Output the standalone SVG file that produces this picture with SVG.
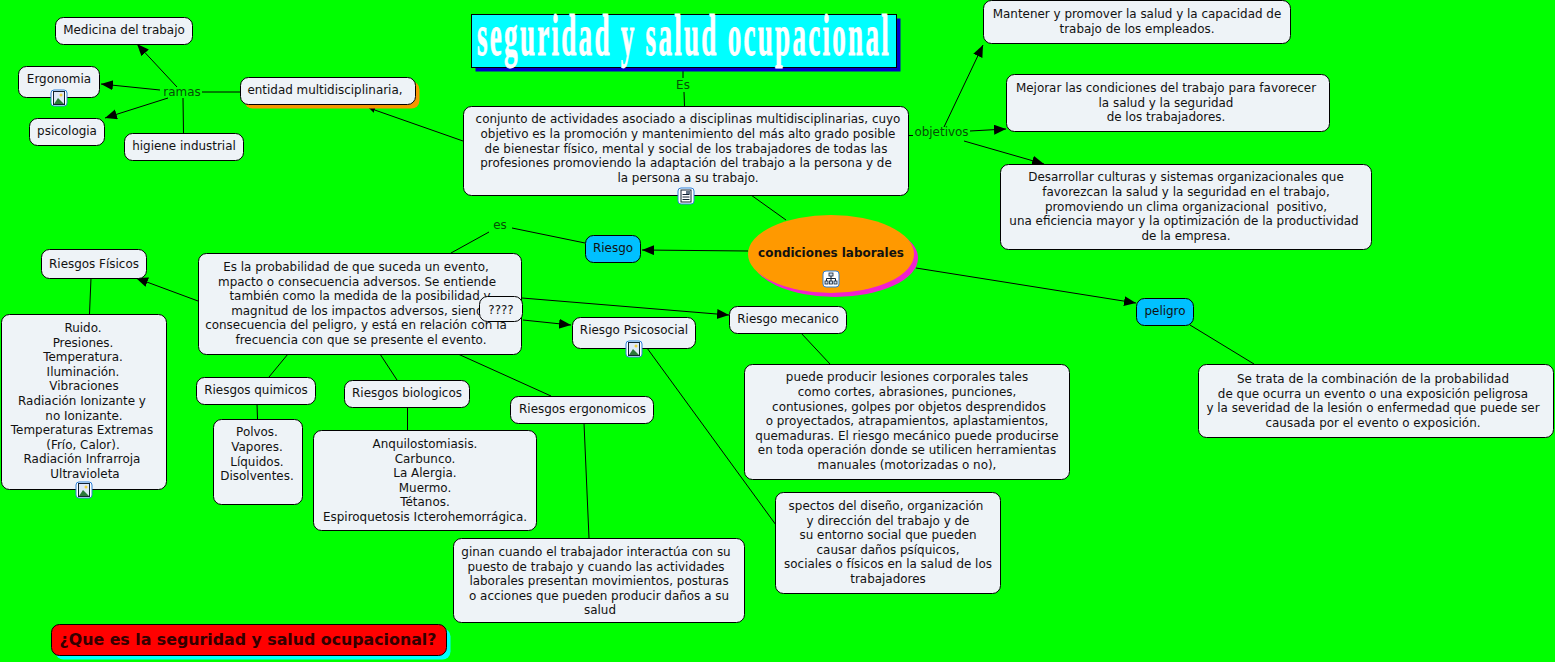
<svg xmlns="http://www.w3.org/2000/svg" width="1555" height="662" viewBox="0 0 1555 662">
<style>
text{font-family:"DejaVu Sans",Verdana,sans-serif;font-size:11.95px;fill:#111;text-anchor:middle}
.n{fill:#eef3f7;stroke:#000;stroke-width:1}
.l{fill:#064f06}
#connectors line{stroke:#000;stroke-width:1;fill:none}
.a{marker-end:url(#arrow)}
</style>
<defs>
<marker id="arrow" markerUnits="userSpaceOnUse" markerWidth="14" markerHeight="12" refX="12" refY="5" orient="auto"><path d="M0 0L12 5L0 10Z" fill="#000"/></marker>
<marker id="small" markerUnits="userSpaceOnUse" markerWidth="7" markerHeight="6" refX="6" refY="3" orient="auto"><path d="M0 0L6 3L0 6Z" fill="#000"/></marker>
<g id="img"><rect x="-8" y="-8" width="16" height="16" rx="3" fill="#fff" stroke="#2f80d8" stroke-width="1"/><rect x="-5.500" y="-6.500" width="11" height="13" fill="#dfe8f8" stroke="#123" stroke-width="1"/><circle cx="2" cy="-3" r="1.500" fill="#f0d040"/><path d="M-5 6L-1 0L5 6Z" fill="#2c7a3a"/></g>
<g id="doc"><rect x="-8" y="-8" width="16" height="16" rx="3" fill="#fff" stroke="#2f80d8" stroke-width="1"/><rect x="-5" y="-6" width="10" height="12" fill="#fff" stroke="#123" stroke-width="1"/><path d="M-3.500-1.500H3.500M-3.500 1H3.500M-3.500 3.500H3.500" stroke="#123" stroke-width="1"/><rect x="0" y="-5" width="4" height="3" fill="#678"/></g>
<g id="map"><rect x="-8" y="-8" width="16" height="16" rx="3" fill="#fff" stroke="#2f80d8" stroke-width="1"/><path d="M0-3V-0.500M-4.500 2V-0.500H4.500V2M0-0.500V2" stroke="#123" fill="none"/><rect x="-2" y="-6" width="4" height="3" fill="#cde" stroke="#123" stroke-width=".8"/><rect x="-6" y="2" width="3" height="3" fill="#cde" stroke="#123" stroke-width=".8"/><rect x="-1.500" y="2" width="3" height="3" fill="#cde" stroke="#123" stroke-width=".8"/><rect x="3" y="2" width="3" height="3" fill="#cde" stroke="#123" stroke-width=".8"/></g>
</defs>
<rect width="1555" height="662" fill="#00ff00"/>
<g id="connectors">
<line x1="683" y1="68" x2="683" y2="78"/><line x1="684" y1="92" x2="684.500" y2="106"/>
<line x1="463" y1="141" x2="369" y2="108" style="marker-end:url(#small)"/>
<line x1="240" y1="92" x2="202" y2="92"/>
<line class="a" x1="177" y1="87" x2="137" y2="44"/>
<line class="a" x1="160" y1="90" x2="101" y2="84"/>
<line class="a" x1="168" y1="98" x2="105" y2="118"/>
<line x1="183" y1="98" x2="183.500" y2="134"/>
<line x1="908" y1="135.500" x2="913" y2="135.500"/>
<line class="a" x1="944" y1="127" x2="983" y2="45"/>
<line class="a" x1="970" y1="131" x2="1006" y2="129"/>
<line class="a" x1="964" y1="141" x2="1044" y2="164"/>
<line x1="751" y1="195" x2="786" y2="220"/>
<line class="a" x1="748" y1="251" x2="642" y2="250"/>
<line x1="585" y1="243" x2="512" y2="228"/>
<line x1="489" y1="232" x2="451" y2="253"/>
<line class="a" x1="916" y1="268" x2="1136" y2="303"/>
<line x1="1190" y1="325" x2="1254" y2="364"/>
<line class="a" x1="198" y1="301" x2="136" y2="278"/>
<line x1="91" y1="278" x2="89.500" y2="314"/>
<line x1="288" y1="354" x2="269" y2="377"/>
<line x1="257" y1="404" x2="257.500" y2="419"/>
<line x1="380" y1="354" x2="397" y2="380"/>
<line x1="407.500" y1="407" x2="407.500" y2="431"/>
<line x1="458" y1="354" x2="551" y2="396"/>
<line x1="584" y1="423" x2="589" y2="538"/>
<line class="a" x1="523" y1="320" x2="571" y2="325"/>
<line class="a" x1="522" y1="298" x2="729" y2="315"/>
<line x1="647" y1="348" x2="776" y2="525"/>
<line x1="801" y1="333" x2="830" y2="364"/>
</g>
<g id="title"><rect x="475.500" y="18.500" width="425" height="53" fill="#0000c8"/><rect x="471.500" y="14.500" width="425" height="53" fill="#00ffff" stroke="#000"/><text transform="translate(684 55) scale(.4515 1)" style="font-family:'Liberation Serif',serif;font-weight:bold;font-size:60px;letter-spacing:5px;fill:#fff;stroke:#fff;stroke-width:.8">seguridad y salud ocupacional</text></g>
<g id="es-label"><text class="l" x="683" y="89">Es</text></g>
<g id="ramas-label"><text class="l" x="182" y="96">ramas</text></g>
<g id="objetivos-label"><text class="l" x="941.500" y="136">objetivos</text></g>
<g id="es2-label"><text class="l" x="500" y="229">es</text></g>
<g id="medicina"><rect class="n" x="55.500" y="17.500" width="137" height="27" rx="8"/><text x="124" y="34">Medicina del trabajo</text></g>
<g id="ergonomia"><rect class="n" x="18.500" y="66.500" width="81" height="31" rx="8"/><text x="59" y="83">Ergonomia</text><use href="#img" x="59" y="98"/></g>
<g id="psicologia"><rect class="n" x="29.500" y="118.500" width="75" height="27" rx="8"/><text x="67" y="135">psicologia</text></g>
<g id="higiene"><rect class="n" x="124.500" y="133.500" width="119" height="27" rx="8"/><text x="184" y="150">higiene industrial</text></g>
<g id="entidad"><rect x="244.500" y="81.500" width="175" height="27" rx="8" fill="#f79400"/><rect class="n" x="240.500" y="77.500" width="175" height="27" rx="8"/><text x="325" y="94">entidad multidisciplinaria,</text></g>
<g id="conjunto"><rect class="n" x="463.500" y="106.500" width="445" height="89" rx="8"/><text x="688" y="123">conjunto de actividades asociado a disciplinas multidisciplinarias, cuyo</text><text x="688" y="138">objetivo es la promoción y mantenimiento del más alto grado posible</text><text x="686" y="152.500">de bienestar físico, mental y social de los trabajadores de todas las</text><text x="686" y="167">profesiones promoviendo la adaptación del trabajo a la persona y de</text><text x="688" y="182">la persona a su trabajo.</text><use href="#doc" x="686" y="196"/></g>
<g id="mantener"><rect class="n" x="983.500" y=".5" width="307" height="43" rx="8"/><text x="1137" y="18">Mantener y promover la salud y la capacidad de</text><text x="1137" y="33">trabajo de los empleados.</text></g>
<g id="mejorar"><rect class="n" x="1006.500" y="74.500" width="323" height="57" rx="8"/><text x="1166" y="92">Mejorar las condiciones del trabajo para favorecer</text><text x="1166" y="106.500">la salud y la seguridad</text><text x="1166" y="121">de los trabajadores.</text></g>
<g id="desarrollar"><rect class="n" x="1000.500" y="164.500" width="371" height="85" rx="8"/><text x="1186" y="181">Desarrollar culturas y sistemas organizacionales que</text><text x="1186" y="196">favorezcan la salud y la seguridad en el trabajo,</text><text x="1186" y="210.500" xml:space="preserve">promoviendo un clima organizacional  positivo,</text><text x="1184" y="225">una eficiencia mayor y la optimización de la productividad</text><text x="1186" y="240">de la empresa.</text></g>
<g id="condiciones"><ellipse cx="835" cy="258" rx="83" ry="39" fill="#f020d0"/><ellipse cx="831" cy="254" rx="83" ry="39" fill="#ff9900"/><text x="831" y="257" style="font-weight:bold">condiciones laborales</text><use href="#map" x="831" y="279"/></g>
<g id="riesgo"><rect x="585.500" y="235.500" width="55" height="27" rx="8" fill="#00c0ff" stroke="#000"/><text x="613" y="252">Riesgo</text></g>
<g id="peligro"><rect x="1136.500" y="298.500" width="57" height="27" rx="8" fill="#00c0ff" stroke="#000"/><text x="1165" y="315">peligro</text></g>
<g id="probabilidad"><rect class="n" x="198.500" y="253.500" width="323" height="101" rx="8"/><text x="356" y="271">Es la probabilidad de que suceda un evento,</text><text x="357" y="285.500">mpacto o consecuencia adversos. Se entiende</text><text x="360" y="300">también como la medida de la posibilidad y</text><text x="361" y="314.500">magnitud de los impactos adversos, siendo</text><text x="356" y="329">consecuencia del peligro, y está en relación con la</text><text x="361" y="344">frecuencia con que se presente el evento.</text></g>
<g id="fisicos"><rect class="n" x="41.500" y="249.500" width="105" height="29" rx="8"/><text x="94" y="268">Riesgos Físicos</text></g>
<g id="ruido"><rect class="n" x="1.500" y="314.500" width="165" height="175" rx="8"/><text x="83" y="332">Ruido.</text><text x="83" y="346.500">Presiones.</text><text x="83" y="361">Temperatura.</text><text x="83" y="376">Iluminación.</text><text x="84" y="390">Vibraciones</text><text x="82" y="405">Radiación Ionizante y</text><text x="84" y="419.500">no Ionizante.</text><text x="82" y="434">Temperaturas Extremas</text><text x="83" y="449">(Frío, Calor).</text><text x="82" y="463">Radiación Infrarroja</text><text x="85" y="477.500">Ultravioleta</text><use href="#img" x="84" y="490"/></g>
<g id="quimicos"><rect class="n" x="196.500" y="377.500" width="119" height="27" rx="8"/><text x="256" y="394">Riesgos quimicos</text></g>
<g id="polvos"><rect class="n" x="213.500" y="419.500" width="89" height="85" rx="8"/><text x="257" y="436">Polvos.</text><text x="257" y="451">Vapores.</text><text x="257" y="465.500">Líquidos.</text><text x="257" y="480">Disolventes.</text></g>
<g id="biologicos"><rect class="n" x="344.500" y="380.500" width="125" height="27" rx="8"/><text x="407" y="397">Riesgos biologicos</text></g>
<g id="anquilo"><rect class="n" x="313.500" y="430.500" width="223" height="100" rx="8"/><text x="425" y="448">Anquilostomiasis.</text><text x="425" y="462.500">Carbunco.</text><text x="425" y="477">La Alergia.</text><text x="425" y="491.500">Muermo.</text><text x="425" y="506">Tétanos.</text><text x="425" y="521">Espiroquetosis Icterohemorrágica.</text></g>
<g id="ergonomicos"><rect class="n" x="510.500" y="396.500" width="143" height="27" rx="8"/><text x="582.500" y="413">Riesgos ergonomicos</text></g>
<g id="ginan"><rect class="n" x="453.500" y="538.500" width="291" height="84" rx="8"/><text x="596" y="556">ginan cuando el trabajador interactúa con su</text><text x="596" y="570.500">puesto de trabajo y cuando las actividades</text><text x="599" y="585">laborales presentan movimientos, posturas</text><text x="599" y="599.500">o acciones que pueden producir daños a su</text><text x="600" y="614">salud</text></g>
<g id="interrogantes"><rect class="n" x="479.500" y="296.500" width="43" height="25" rx="8"/><text x="501" y="314">????</text></g>
<g id="psicosocial"><rect class="n" x="572.500" y="317.500" width="123" height="31" rx="8"/><text x="634" y="334">Riesgo Psicosocial</text><use href="#img" x="634" y="349"/></g>
<g id="mecanico"><rect class="n" x="729.500" y="306.500" width="117" height="27" rx="8"/><text x="788" y="323">Riesgo mecanico</text></g>
<g id="puede"><rect class="n" x="744.500" y="364.500" width="325" height="115" rx="8"/><text x="907" y="381">puede producir lesiones corporales tales</text><text x="907" y="396">como cortes, abrasiones, punciones,</text><text x="909" y="410.500">contusiones, golpes por objetos desprendidos</text><text x="907" y="425">o proyectados, atrapamientos, aplastamientos,</text><text x="907" y="439.500">quemaduras. El riesgo mecánico puede producirse</text><text x="907" y="454">en toda operación donde se utilicen herramientas</text><text x="907" y="469">manuales (motorizadas o no),</text></g>
<g id="spectos"><rect class="n" x="775.500" y="492.500" width="225" height="101" rx="8"/><text x="886" y="510">spectos del diseño, organización</text><text x="888" y="524.500">y dirección del trabajo y de</text><text x="888" y="539">su entorno social que pueden</text><text x="888" y="553.500">causar daños psíquicos,</text><text x="888" y="568">sociales o físicos en la salud de los</text><text x="888" y="583">trabajadores</text></g>
<g id="trata"><rect class="n" x="1198.500" y="364.500" width="355" height="73" rx="8"/><text x="1373" y="383">Se trata de la combinación de la probabilidad</text><text x="1373" y="397.500">de que ocurra un evento o una exposición peligrosa</text><text x="1373" y="412">y la severidad de la lesión o enfermedad que puede ser</text><text x="1373" y="426.500">causada por el evento o exposición.</text></g>
<g id="pregunta"><rect x="55.500" y="628.500" width="395" height="31" rx="8" fill="#00ffff"/><rect x="51.500" y="624.500" width="395" height="31" rx="8" fill="#ff0000" stroke="#000"/><text x="248" y="645" style="font-weight:bold;font-size:15.800px;fill:#300">¿Que es la seguridad y salud ocupacional?</text></g>
</svg>
